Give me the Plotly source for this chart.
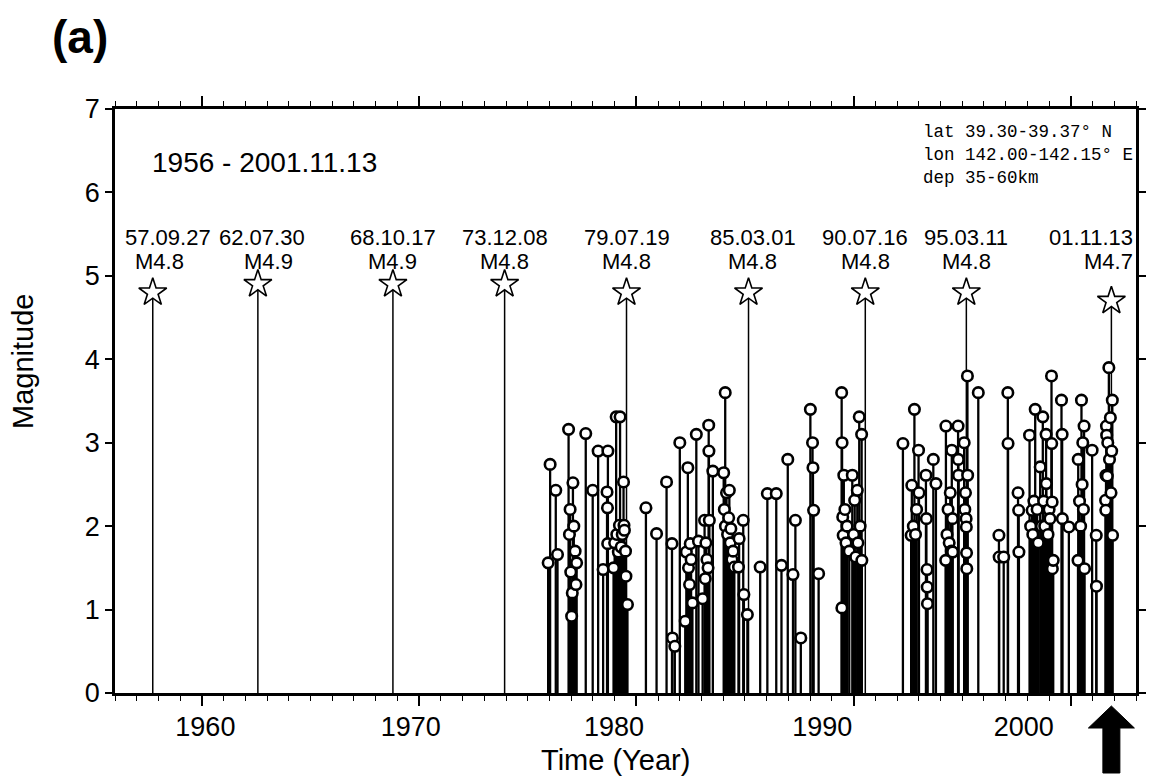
import datetime as dt
import plotly.graph_objects as go

# ---------------- data ----------------
MAIN_DATES = ["1957-09-27", "1962-07-30", "1968-10-17", "1973-12-08", "1979-07-19",
              "1985-03-01", "1990-07-16", "1995-03-11", "2001-11-13"]
MAIN_MAG = [4.8, 4.9, 4.9, 4.9, 4.8, 4.8, 4.8, 4.8, 4.7]
MAIN_LABEL_DATE = ["57.09.27", "62.07.30", "68.10.17", "73.12.08", "79.07.19",
                   "85.03.01", "90.07.16", "95.03.11", "01.11.13"]
MAIN_LABEL_MAG = ["M4.8", "M4.9", "M4.9", "M4.8", "M4.8", "M4.8", "M4.8", "M4.8", "M4.7"]

SMALL_T = [
    1975.94, 1976.03, 1976.29, 1976.37, 1976.88, 1976.92, 1976.95, 1976.98, 1977.02, 1977.05,
    1977.08, 1977.12, 1977.18, 1977.22, 1977.25, 1977.67, 1977.99, 1978.24, 1978.47, 1978.65,
    1978.67, 1978.68, 1978.69, 1978.95, 1979.00, 1979.07, 1979.10, 1979.17, 1979.22, 1979.25,
    1979.30, 1979.35, 1979.41, 1979.43, 1979.45, 1979.50, 1979.52, 1979.59, 1980.44, 1980.93,
    1981.39, 1981.64, 1981.66, 1981.77, 1982.00, 1982.25, 1982.30, 1982.37, 1982.40, 1982.45,
    1982.48, 1982.52, 1982.58, 1982.76, 1982.86, 1983.05, 1983.14, 1983.17, 1983.20, 1983.25,
    1983.30, 1983.33, 1983.34, 1983.36, 1983.52, 1984.02, 1984.05, 1984.09, 1984.10, 1984.15,
    1984.20, 1984.25, 1984.28, 1984.32, 1984.35, 1984.40, 1984.45, 1984.51, 1984.70, 1984.73,
    1984.92, 1984.95, 1985.11, 1985.70, 1986.03, 1986.44, 1986.68, 1986.97, 1987.21, 1987.32,
    1987.57, 1988.01, 1988.11, 1988.13, 1988.16, 1988.39,
    1989.45, 1989.46, 1989.47, 1989.50, 1989.52, 1989.55, 1989.60, 1989.65, 1989.70, 1989.80,
    1989.94, 1990.00, 1990.05, 1990.10, 1990.17, 1990.20, 1990.26, 1990.30, 1990.37, 1990.38,
    1992.27, 1992.65, 1992.68, 1992.75, 1992.80, 1992.85, 1992.90, 1992.99, 1993.01, 1993.33,
    1993.35, 1993.38, 1993.39, 1993.40, 1993.67, 1993.79, 1994.24, 1994.25, 1994.30, 1994.35,
    1994.40, 1994.45, 1994.50, 1994.52, 1994.55, 1994.56, 1994.81, 1994.82, 1994.83, 1995.09,
    1995.12, 1995.15, 1995.18, 1995.19, 1995.20, 1995.21, 1995.24, 1995.25, 1995.74, 1996.69,
    1996.70, 1996.91, 1997.10, 1997.11, 1997.57, 1997.60, 1997.61, 1998.10, 1998.15, 1998.22,
    1998.25, 1998.30, 1998.36, 1998.45, 1998.50, 1998.59, 1998.65, 1998.71, 1998.75, 1998.80,
    1998.86, 1998.87, 1998.95, 1999.00, 1999.04, 1999.11, 1999.12, 1999.14, 1999.15, 1999.19,
    1999.57, 1999.60, 1999.61, 1999.91, 2000.33, 2000.34, 2000.40, 2000.45, 2000.49, 2000.52,
    2000.55, 2000.58, 2000.61, 2000.63, 2000.98, 2001.17, 2001.18, 2001.60, 2001.61, 2001.62,
    2001.64, 2001.65, 2001.68, 2001.70, 2001.75, 2001.78, 2001.82, 2001.85, 2001.88, 2001.91,
    2001.92,
]
SMALL_M = [
    1.56, 2.74, 2.43, 1.66, 3.16, 1.90, 2.20, 1.45, 0.92, 1.20,
    2.52, 2.00, 1.70, 1.30, 1.56, 3.11, 2.43, 2.90, 1.48, 2.41,
    2.22, 1.79, 2.90, 1.50, 1.80, 3.31, 1.90, 1.69, 2.01, 3.31,
    1.75, 1.90, 2.53, 2.01, 1.95, 1.70, 1.40, 1.06, 2.22, 1.91,
    2.53, 1.79, 0.66, 0.56, 3.00, 0.86, 1.69, 2.70, 1.50, 1.30,
    1.79, 1.60, 1.08, 3.10, 1.82, 1.13, 2.07, 1.37, 1.80, 1.60,
    1.50, 3.21, 2.90, 2.07, 2.66, 2.64, 2.20, 3.60, 2.00, 2.40,
    1.90, 2.10, 2.43, 1.80, 1.97, 1.60, 1.70, 1.51, 1.51, 1.85,
    2.07, 1.18, 0.94, 1.51, 2.39, 2.39, 1.53, 2.80, 1.42, 2.07,
    0.66, 3.40, 3.00, 2.70, 2.19, 1.43,
    3.60, 1.02, 3.00, 2.11, 1.89, 2.61, 2.20, 1.80, 2.00, 1.70,
    2.61, 1.90, 2.31, 1.63, 2.43, 1.80, 3.31, 2.00, 3.10, 1.59,
    2.99, 1.89, 2.49, 2.00, 3.40, 1.90, 2.20, 2.91, 2.40, 2.61,
    2.09, 1.48, 1.27, 1.07, 2.80, 2.51, 1.59, 3.20, 1.90, 2.20,
    1.80, 2.40, 1.70, 2.91, 2.09, 1.69, 3.20, 2.80, 2.61, 3.00,
    2.20, 2.40, 2.09, 1.99, 1.68, 1.49, 3.80, 2.61, 3.60, 1.89,
    1.63, 1.63, 3.60, 2.99, 2.40, 2.19, 1.69, 3.09, 2.00, 2.19,
    1.90, 2.30, 3.40, 2.20, 1.80, 2.71, 2.00, 3.31, 2.30, 2.00,
    3.10, 2.51, 1.90, 2.20, 2.09, 3.80, 2.99, 2.29, 1.49, 1.59,
    3.51, 3.10, 2.09, 1.99, 1.59, 2.80, 2.30, 2.00, 3.51, 2.50,
    3.00, 2.20, 3.20, 1.49, 2.91, 1.89, 1.28, 2.31, 2.19, 2.61,
    3.20, 3.09, 2.60, 3.00, 3.90, 2.80, 3.30, 2.40, 2.90, 3.51,
    1.89,
]

X_RANGE = [1956.0, 2003.0]
Y_RANGE = [0, 7]
X_TICK_LABELS = ["1960", "1970", "1980", "1990", "2000"]
X_TICK_YEARS = [1960, 1970, 1980, 1990, 2000]
Y_TICKS = [0, 1, 2, 3, 4, 5, 6, 7]

# label placement (styling): label offsets along axis in years, as drawn in the source figure
X_LABEL_OFFSETS = [0.16, -0.39, -1.03, -1.44, -2.17]


def decimal_year(s):
    d = dt.date.fromisoformat(s)
    start = dt.date(d.year, 1, 1)
    ndays = (dt.date(d.year + 1, 1, 1) - start).days
    return d.year + ((d - start).days + 0.5) / ndays


MAIN_T = [decimal_year(s) for s in MAIN_DATES]

FONT = "Liberation Sans, Arial, Helvetica, sans-serif"


def stems(xs, ys):
    sx, sy = [], []
    for x, y in zip(xs, ys):
        sx += [x, x, None]
        sy += [0, y, None]
    return sx, sy


fig = go.Figure()

sx, sy = stems(SMALL_T, SMALL_M)
fig.add_trace(go.Scatter(x=sx, y=sy, mode="lines",
                         line=dict(color="black", width=2.3), hoverinfo="skip", showlegend=False))
mx, my = stems(MAIN_T, MAIN_MAG)
fig.add_trace(go.Scatter(x=mx, y=my, mode="lines",
                         line=dict(color="black", width=1.5), hoverinfo="skip", showlegend=False))
fig.add_trace(go.Scatter(x=SMALL_T, y=SMALL_M, mode="markers",
                         marker=dict(symbol="circle", size=10.5, color="white",
                                     line=dict(color="black", width=2.6)),
                         showlegend=False))
fig.add_trace(go.Scatter(x=MAIN_T, y=MAIN_MAG, mode="markers",
                         marker=dict(symbol="star", size=21, color="white",
                                     line=dict(color="black", width=1.6)),
                         showlegend=False))

# event labels
x_shift_line1 = [15, 4, 0, 0, 0, 4, 0, 0, 0]
x_shift_line2 = [7, 11, 0, 0, 0, 4, 0, 0, 0]
for i, (t, ld, lm) in enumerate(zip(MAIN_T, MAIN_LABEL_DATE, MAIN_LABEL_MAG)):
    last = i == len(MAIN_T) - 1
    for txt, yy, xs in ((ld, 5.455, x_shift_line1[i]), (lm, 5.168, x_shift_line2[i])):
        if last:
            fig.add_annotation(x=1, xref="paper", y=yy, yref="y", text=txt, showarrow=False,
                               xanchor="right", yanchor="middle", xshift=-1,
                               font=dict(family=FONT, size=22, color="black"))
        else:
            fig.add_annotation(x=t, xref="x", y=yy, yref="y", text=txt, showarrow=False,
                               xanchor="center", yanchor="middle", xshift=xs,
                               font=dict(family=FONT, size=22, color="black"))

# texts
fig.add_annotation(x=0.034, xref="paper", y=0.909, yref="paper", text="1956 - 2001.11.13",
                   showarrow=False, xanchor="left", yanchor="middle",
                   font=dict(family=FONT, size=28, color="black"))
for txt, yy in (("lat 39.30-39.37° N", 0.9606), ("lon 142.00-142.15° E", 0.9212),
                ("dep 35-60km", 0.8818)):
    fig.add_annotation(x=0.7897, xref="paper", y=yy, yref="paper", text=txt, showarrow=False,
                       xanchor="left", yanchor="middle",
                       font=dict(family="Liberation Mono, DejaVu Sans Mono, monospace", size=17.5,
                                 color="black"))
fig.add_annotation(x=-0.034, xref="paper", y=1.1233, yref="paper", text="<b>(a)</b>",
                   showarrow=False, xanchor="center", yanchor="middle",
                   font=dict(family=FONT, size=46, color="black"))
fig.add_annotation(x=-0.0901, xref="paper", y=0.5668, yref="paper", text="Magnitude",
                   showarrow=False, textangle=-90, xanchor="center", yanchor="middle",
                   font=dict(family=FONT, size=29, color="black"))
fig.add_annotation(x=0.4903, xref="paper", y=-0.1147, yref="paper", text="Time (Year)",
                   showarrow=False, xanchor="center", yanchor="middle",
                   font=dict(family=FONT, size=29, color="black"))

# arrow pointing to the latest event
x_frac = (MAIN_T[-1] - X_RANGE[0]) / (X_RANGE[1] - X_RANGE[0])
fig.add_shape(type="path", xref="paper", yref="paper", xsizemode="pixel", ysizemode="pixel",
              xanchor=x_frac, yanchor=0,
              path="M 0,-13 L 23,-35 L 8.5,-35 L 8.5,-80 L -8.5,-80 L -8.5,-35 L -23,-35 Z",
              fillcolor="black", line=dict(color="black", width=1))

fig.update_layout(
    width=1158, height=784,
    margin=dict(l=115, r=13, t=109, b=91),
    paper_bgcolor="white", plot_bgcolor="white",
    showlegend=False,
    font=dict(family=FONT, size=27, color="black"),
    xaxis=dict(range=X_RANGE, tickmode="array", tickvals=X_TICK_YEARS, showticklabels=False,
               ticks="outside", ticklen=10, tickwidth=1.6, tickcolor="black",
               minor=dict(dtick=1, tick0=1956, ticks="outside", ticklen=5, tickwidth=1.4,
                          tickcolor="black"),
               showline=True, linecolor="black", linewidth=2.5, mirror="ticks",
               showgrid=False, zeroline=False),
    xaxis2=dict(range=X_RANGE, overlaying="x", anchor="y", side="bottom", tickmode="array",
                tickvals=[y + o for y, o in zip(X_TICK_YEARS, X_LABEL_OFFSETS)],
                ticktext=X_TICK_LABELS, ticks="outside", ticklen=10, tickcolor="rgba(0,0,0,0)",
                showline=False, showgrid=False, zeroline=False,
                tickfont=dict(family=FONT, size=27, color="black")),
    yaxis=dict(range=Y_RANGE, tickmode="array", tickvals=Y_TICKS,
               ticks="outside", ticklen=7, tickwidth=1.6, tickcolor="black",
               showline=True, linecolor="black", linewidth=2.5, mirror="ticks",
               showgrid=False, zeroline=False,
               tickfont=dict(family=FONT, size=27, color="black")),
)
# dummy trace to activate xaxis2
fig.add_trace(go.Scatter(x=[X_RANGE[0]], y=[0], xaxis="x2", mode="markers",
                         marker=dict(opacity=0), hoverinfo="skip", showlegend=False))

fig.write_html("out.html", config={"displayModeBar": False},
               post_script="document.body.style.margin='0px';")
